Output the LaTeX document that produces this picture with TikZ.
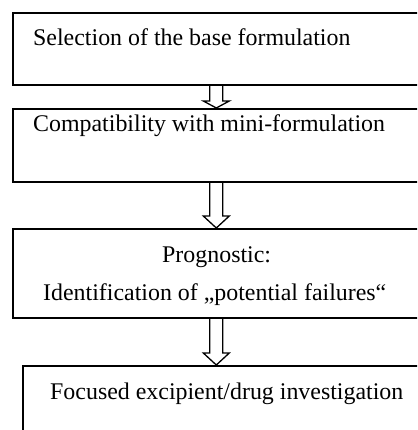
\documentclass[tikz,border=0pt]{standalone}
\usepackage{fontspec}
\setmainfont{Liberation Serif}
\usetikzlibrary{calc}
\tikzset{
  box/.style={draw, line width=1.6pt, rectangle, inner sep=0pt, anchor=north west},
  lbl/.style={anchor=base west, inner sep=0pt, font=\fontsize{23.9}{28}\selectfont},
  arr/.style={draw, line width=1.3pt, line join=miter},
}
\newcommand\hollowarr[3]{%
  \draw[arr] ($(#1)+(-6.5,0)$) -- ($(#2)+(-6.5,-#3)$) -- ($(#2)+(-13,-#3)$) -- (#2)
    -- ($(#2)+(13,-#3)$) -- ($(#2)+(6.5,-#3)$) -- ($(#1)+(6.5,0)$);}
\begin{document}
\begin{tikzpicture}[x=1pt,y=-1pt]
\useasboundingbox (0,0) rectangle (417,430);
\clip (0,0) rectangle (417,430);
\node[box, minimum width=407, minimum height=72] (b1) at (12,12) {};
\node[box, minimum width=407, minimum height=73] (b2) at (12,108) {};
\node[box, minimum width=407, minimum height=89] (b3) at (12,228) {};
\node[box, minimum width=420, minimum height=80] (b4) at (22,365) {};
\node[lbl] (t1) at (33,46) {Selection of the base formulation};
\node[lbl] (t2) at (33,132) {Compatibility with mini-formulation};
\node[lbl] (t3a) at (162,262) {Prognostic:};
\node[lbl] (t3b) at (43,300) {Identification of „potential failures“};
\node[lbl] (t4) at (50,399) {Focused excipient/drug investigation};
\coordinate (a3t) at (b3.south |- b4.north);
\hollowarr{b1.south}{b2.north}{7}
\hollowarr{b2.south}{b3.north}{12}
\hollowarr{b3.south}{a3t}{12}
\end{tikzpicture}
\end{document}
